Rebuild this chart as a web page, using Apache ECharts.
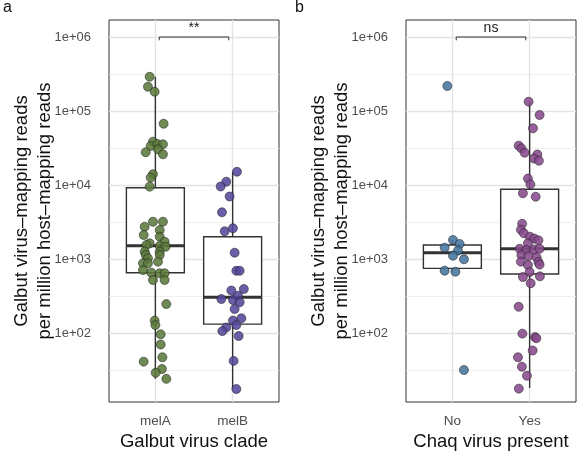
<!DOCTYPE html>
<html>
<head>
<meta charset="utf-8">
<title>Galbut virus load by clade and Chaq virus</title>
<script src="https://cdn.jsdelivr.net/npm/echarts@6/dist/echarts.min.js"></script>
<style>
  html, body { margin: 0; padding: 0; background: #fff; }
  #chart { width: 578px; height: 453px; }
</style>
</head>
<body>
<div id="chart"></div>
<script>
// categories and axis ticks (log10 space)
const cladeCats = ['melA', 'melB'];
const chaqCats = ['No', 'Yes'];
const yMajor = [2, 3, 4, 5, 6];
const yMinor = [1.5, 2.5, 3.5, 4.5, 5.5];
const sigLabels = ['**', 'ns'];

// reads per million host reads
const melA = [290000, 213000, 182000, 67300, 38500, 33700, 35800, 35500, 30400, 27700, 26000, 14000, 12600, 9490,
  3190, 3190, 2730, 2460, 2110, 2000, 1630, 1545, 1713, 1500, 1466, 1256, 1256, 1133, 1133, 1021, 920, 875, 875,
  710, 653, 641, 641, 520, 520, 246, 147, 128, 96, 70, 47, 41, 32.6, 29, 24];
const melAJitter = [-0.074, -0.096, -0.009, 0.107, -0.031, -0.061, 0.026, 0.098, 0.034, -0.125, 0.098, -0.031, -0.061, -0.074,
  -0.031, 0.098, -0.138, 0.056, -0.151, 0.056, -0.074, -0.116, 0.120, 0.056, 0.133, -0.138, 0.056, -0.125, 0.056, -0.096, 0.034, -0.160, -0.096,
  -0.160, -0.052, 0.056, 0.120, -0.031, 0.120, 0.142, -0.009, 0.0, 0.069, 0.069, 0.091, -0.151, 0.085, 0.004, 0.142];

const melB = [15100, 11080, 9540, 6990, 4280, 2370, 2600, 1216, 693, 693, 375, 393, 288, 279, 319, 260, 211, 158, 147,
  128, 119, 106, 91, 42, 17.5];
const melBJitter = [0.056, -0.082, -0.155, -0.039, -0.138, -0.103, 0.004, 0.026, 0.048, 0.091, -0.017, 0.145, -0.146, 0.004,
  0.069, 0.091, 0.026, 0.113, 0.004, 0.048, -0.082, -0.133, 0.078, 0.013, 0.048];

const chaqNo = [218000, 1806, 1595, 1422, 1295, 1108, 991, 695, 673, 31.6];
const chaqNoJitter = [-0.065, 0.008, 0.094, -0.100, 0.072, 0.008, 0.150, -0.100, 0.039, 0.150];

const chaqYes = [133600, 88300, 58400, 34000, 31300, 27300, 25800, 22800, 21300, 12200, 10200, 7730, 6950, 2990, 2490,
  2230, 2000, 1888, 1790, 1630, 1374, 1324, 1343, 1377, 1133, 1098, 1048, 920, 911, 829, 838, 667, 571, 583, 470, 226,
  98, 88, 85, 58, 47, 35, 26.4, 17.7];
const chaqYesJitter = [-0.013, 0.129, 0.043, -0.142, -0.107, -0.065, 0.100, 0.056, 0.120, -0.022, 0.010, -0.087, 0.078,
  -0.097, -0.113, -0.075, 0.004, 0.059, 0.114, -0.022, -0.129, -0.043, 0.056, 0.129, -0.107, -0.015, 0.091, -0.113, 0.114,
  -0.022, 0.129, 0.0, -0.087, 0.133, 0.013, -0.142, -0.094, 0.069, 0.087, 0.039, -0.151, -0.100, -0.035, -0.140];

// box stats: [min, Q1, median, Q3, max]
const boxMelA = [24, 653, 1510, 9200, 290000];
const boxMelB = [17.5, 132, 303, 2000, 15100];
const boxNo = [673, 748, 1216, 1546, 1806];
const boxYes = [18, 627, 1377, 8780, 133600];

const colors = { melA: '#5b7a3b', melB: '#54499c', No: '#45759e', Yes: '#874a8d' };

const FONT = 'Liberation Sans';
const yMin = 1.0676, yMax = 6.2297;
const lg = v => Math.log10(v);

function points(vals, jit, pos) {
    return vals.map((v, i) => [pos + jit[i], lg(v)]);
}

function boxRow(pos, stats) {
    return [pos].concat(stats.map(lg));
}

function renderBox(params, api) {
    const x = api.value(0);
    const pt = k => api.coord([x, api.value(k)]);
    const lo = pt(1), q1 = pt(2), md = pt(3), q3 = pt(4), hi = pt(5);
    const half = api.size([0.75, 0])[0] / 2;
    const cx = lo[0];
    const st = { stroke: '#333', lineWidth: 1.4 };
    return {
        type: 'group',
        children: [
            { type: 'line', shape: { x1: cx, y1: hi[1], x2: cx, y2: q3[1] }, style: st },
            { type: 'line', shape: { x1: cx, y1: q1[1], x2: cx, y2: lo[1] }, style: st },
            { type: 'rect', shape: { x: cx - half, y: q3[1], width: half * 2, height: q1[1] - q3[1] },
              style: { fill: '#fff', stroke: '#333', lineWidth: 1.4 } },
            { type: 'line', shape: { x1: cx - half, y1: md[1], x2: cx + half, y2: md[1] },
              style: { stroke: '#333', lineWidth: 3 } }
        ]
    };
}

function renderBracket(params, api) {
    const x1 = api.value(0), x2 = api.value(1), yl = api.value(2), yt = api.value(3);
    const a = api.coord([x1, yt]), b = api.coord([x1, yl]), c = api.coord([x2, yl]), d = api.coord([x2, yt]);
    const label = sigLabels[params.seriesIndex === 3 ? 0 : 1];
    return {
        type: 'group',
        children: [
            { type: 'polyline', shape: { points: [a, b, c, d] }, style: { stroke: '#333', lineWidth: 1, fill: null } },
            { type: 'text', x: (b[0] + c[0]) / 2, y: b[1] - 2,
              style: { text: label, fill: '#222', font: '14px ' + FONT, align: 'center', verticalAlign: 'bottom' } }
        ]
    };
}

function yAxes(gridIndex) {
    return [{
        type: 'value', gridIndex: gridIndex, min: yMin, max: yMax,
        name: 'Galbut virus–mapping reads\nper million host–mapping reads',
        nameLocation: 'middle', nameRotate: 90, nameGap: 53, nameMoveOverlap: false,
        nameTextStyle: { fontFamily: FONT, fontSize: 18.5, color: '#111', lineHeight: 23 },
        axisLine: { show: false },
        axisTick: { show: false, customValues: yMajor },
        axisLabel: { customValues: yMajor, margin: 18, color: '#4d4d4d', fontFamily: FONT, fontSize: 13,
                     formatter: v => '1e+' + String(Math.round(v)).padStart(2, '0') },
        splitLine: { show: true, lineStyle: { color: '#e3e3e3', width: 1.3 } }
    }, {
        type: 'value', gridIndex: gridIndex, min: yMin, max: yMax,
        axisLine: { show: false },
        axisTick: { show: false, customValues: yMinor },
        axisLabel: { show: false, customValues: yMinor },
        splitLine: { show: true, lineStyle: { color: '#ebebeb', width: 0.8 } }
    }];
}

function xAxis(gridIndex, cats, title) {
    return {
        type: 'value', gridIndex: gridIndex, min: 0.4, max: 2.6,
        name: title, nameLocation: 'middle', nameGap: 30,
        nameTextStyle: { fontFamily: FONT, fontSize: 18.5, color: '#111' },
        axisLine: { show: false },
        axisTick: { show: false, customValues: [1, 2] },
        axisLabel: { customValues: [1, 2], margin: 12, color: '#4d4d4d', fontFamily: FONT, fontSize: 13.5,
                     formatter: v => cats[Math.round(v) - 1] },
        splitLine: { show: true, lineStyle: { color: '#e3e3e3', width: 1.3 } }
    };
}

function scatter(xi, yi, data, color) {
    return {
        type: 'scatter', xAxisIndex: xi, yAxisIndex: yi, data: data, symbolSize: 9, z: 3,
        itemStyle: { color: color, opacity: 0.88, borderColor: '#1a1a1a', borderWidth: 0.6 }
    };
}

const chart = echarts.init(document.getElementById('chart'), null, { renderer: 'canvas' });

const gridBase = { top: 20, bottom: 51, show: true, backgroundColor: '#fff', borderColor: '#333', borderWidth: 1,
                   containLabel: false, outerBoundsMode: 'none' };

chart.setOption({
    animation: false,
    textStyle: { fontFamily: FONT },
    title: [
        { text: 'a', left: 3, top: 0, padding: 0, textStyle: { fontFamily: FONT, fontSize: 16, fontWeight: 'normal', color: '#111' } },
        { text: 'b', left: 295, top: 0, padding: 0, textStyle: { fontFamily: FONT, fontSize: 16, fontWeight: 'normal', color: '#111' } }
    ],
    grid: [
        Object.assign({ left: 109, right: 299 }, gridBase),
        Object.assign({ left: 406, right: 2 }, gridBase)
    ],
    xAxis: [
        xAxis(0, cladeCats, 'Galbut virus clade'),
        xAxis(1, chaqCats, 'Chaq virus present')
    ],
    yAxis: yAxes(0).concat(yAxes(1)),
    series: [
        // panel a
        { type: 'custom', xAxisIndex: 0, yAxisIndex: 0, renderItem: renderBox, z: 2,
          encode: { x: 0, y: [1, 2, 3, 4, 5] },
          data: [boxRow(1, boxMelA), boxRow(2, boxMelB)] },
        scatter(0, 0, points(melA, melAJitter, 1), colors.melA),
        scatter(0, 0, points(melB, melBJitter, 2), colors.melB),
        { type: 'custom', xAxisIndex: 0, yAxisIndex: 0, renderItem: renderBracket, z: 4,
          encode: { x: [0, 1], y: [2, 3] }, data: [[1.05, 1.95, 6.0, 5.955]] },
        // panel b
        { type: 'custom', xAxisIndex: 1, yAxisIndex: 2, renderItem: renderBox, z: 2,
          encode: { x: 0, y: [1, 2, 3, 4, 5] },
          data: [boxRow(1, boxNo), boxRow(2, boxYes)] },
        scatter(1, 2, points(chaqNo, chaqNoJitter, 1), colors.No),
        scatter(1, 2, points(chaqYes, chaqYesJitter, 2), colors.Yes),
        { type: 'custom', xAxisIndex: 1, yAxisIndex: 2, renderItem: renderBracket, z: 4,
          encode: { x: [0, 1], y: [2, 3] }, data: [[1.05, 1.95, 6.0, 5.955]] }
    ]
});
</script>
</body>
</html>
